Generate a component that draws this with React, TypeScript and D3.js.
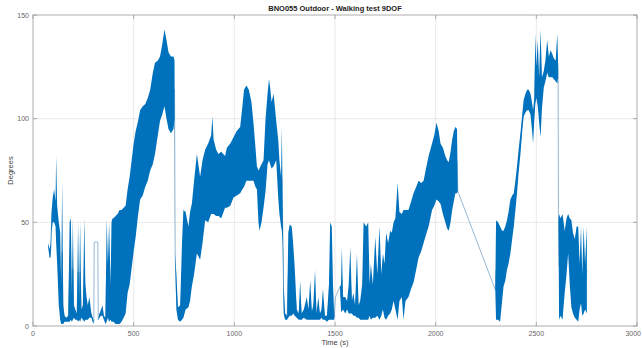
import * as d3 from "d3";
import { useEffect, useRef } from "react";

// envelope of the heading signal: time (s), min and max (deg)
const time = [
  76, 82, 88, 92, 98, 105, 112, 115, 120, 128, 135, 140, 145, 150, 157, 165, 175, 182, 188, 193,
  198, 203, 210, 218, 224, 229, 234, 240, 248, 255, 260, 266, 272, 280, 290, 300, 302, 304, 322, 324,
  330, 338, 345, 352, 360, 366, 372, 378, 385, 390, 395, 400, 410, 420, 430, 440, 450, 460, 470, 480,
  490, 500, 510, 520, 532, 545, 557, 570, 582, 595, 606, 620, 631, 642, 653, 663, 673, 685, 698, 703,
  706, 712, 720, 731, 740, 747, 758, 772, 780, 789, 800, 814, 830, 842, 855, 870, 885, 891, 897, 910,
  921, 935, 954, 963, 980, 996, 1012, 1029, 1040, 1048, 1060, 1072, 1085, 1095, 1105, 1112, 1120, 1125, 1135, 1145,
  1155, 1165, 1172, 1178, 1185, 1195, 1208, 1218, 1224, 1232, 1236, 1240, 1245, 1252, 1262, 1268, 1275, 1285, 1292, 1300,
  1310, 1320, 1327, 1334, 1345, 1360, 1368, 1377, 1385, 1392, 1401, 1408, 1417, 1425, 1433, 1440, 1450, 1460, 1470, 1476,
  1484, 1490, 1496, 1502, 1525, 1530, 1534, 1540, 1551, 1560, 1568, 1576, 1584, 1591, 1600, 1609, 1617, 1625, 1635, 1642,
  1655, 1665, 1672, 1678, 1688, 1700, 1710, 1721, 1730, 1738, 1746, 1754, 1764, 1774, 1782, 1791, 1800, 1811, 1820, 1832,
  1840, 1850, 1865, 1878, 1890, 1903, 1915, 1928, 1940, 1952, 1965, 1982, 1993, 2004, 2015, 2024, 2036, 2048, 2057, 2065,
  2074, 2082, 2090, 2098, 2106, 2110, 2296, 2300, 2310, 2320, 2330, 2337, 2346, 2354, 2362, 2371, 2380, 2388, 2396, 2404,
  2412, 2421, 2430, 2437, 2446, 2454, 2462, 2471, 2478, 2484, 2490, 2495, 2500, 2507, 2514, 2521, 2528, 2537, 2545, 2554,
  2562, 2571, 2580, 2587, 2596, 2604, 2608, 2610, 2613, 2620, 2630, 2641, 2650, 2658, 2666, 2674, 2682, 2691, 2700, 2708,
  2715, 2722, 2728, 2735, 2742, 2751,
];
const low = [
  38, 33, 33, 45, 50, 50, 48, 40, 30, 10, 3, 1, 1, 1, 2, 2, 2, 2, 3, 2,
  3, 4, 3, 3, 2, 3, 2, 4, 3, 2, 3, 3, 3, 4, 4, 1, 2, 40.5, 40.5, 3,
  4, 5, 5, 3, 1, 2, 4, 2, 3, 2, 2, 2, 1, 1, 1, 2, 4, 6, 16, 20,
  28, 36, 43, 52, 61, 63, 67, 70, 75, 78, 83, 92, 99, 102, 106, 100, 95, 93, 95, 100,
  32, 8, 3, 2, 3, 4, 8, 9, 12, 19, 25, 35, 32, 40, 51, 50, 54, 54, 54, 53,
  53, 52, 57, 57, 58, 62, 63, 64, 66, 67, 70, 70, 70, 70, 67, 66, 50, 46, 50, 57,
  65, 78, 80, 78, 76, 77, 80, 62, 54, 48, 46, 40, 6, 3, 3, 4, 5, 5, 6, 5,
  4, 3, 3, 3, 4, 3, 3, 3, 3, 3, 3, 3, 3, 3, 4, 3, 3, 2, 3, 3,
  3, 3, 3, 14, 19, 7, 7, 8, 6, 8, 6, 6, 6, 5, 5, 4, 4, 3, 3, 3,
  3, 3, 5, 3, 4, 4, 5, 3, 5, 8, 4, 3, 5, 6, 8, 12, 8, 3, 12, 14,
  3, 12, 14, 18, 21, 27, 33, 36, 40, 44, 48, 56, 58, 61, 60, 59, 54, 50, 47, 46,
  50, 56, 60, 64, 64, 65, 17.5, 3, 3, 2, 12, 19, 22, 27, 30, 35, 42, 48, 56, 64,
  74, 83, 94, 101, 103, 104, 104, 102, 95, 88, 100, 107, 110, 106, 98, 91, 105, 115, 118, 122,
  120, 120, 120, 119, 118, 117, 120, 51, 3, 5, 3, 16, 25, 35, 20, 9, 6, 4, 3, 2,
  8, 11, 5, 6, 8, 6,
];
const high = [
  40, 37, 40, 55, 62, 66, 60, 82, 58, 50, 45, 20, 70, 10, 5, 4, 5, 50, 52, 15,
  52, 10, 8, 6, 50, 12, 50, 8, 10, 52, 20, 14, 10, 14, 6, 3, 2, 40.5, 40.5, 3,
  6, 8, 10, 5, 4, 52, 30, 50, 20, 50, 52, 52, 53, 54, 56, 56, 57, 58, 66, 72,
  80, 88, 94, 98, 104, 106, 107, 110, 114, 122, 127, 128, 130, 136, 143, 138, 132, 130, 130, 128,
  35, 25, 9, 10, 40, 56, 55, 48, 55, 59, 70, 83, 72, 80, 85, 88, 92, 101, 90, 85,
  83, 84, 82, 86, 88, 91, 94, 96, 106, 114, 116, 114, 108, 98, 86, 77, 75, 76, 78, 80,
  100, 112, 119, 115, 108, 112, 99, 90, 80, 72, 96, 60, 20, 6, 5, 45, 49, 48, 40, 28,
  8, 6, 22, 6, 8, 14, 8, 22, 7, 10, 27, 6, 14, 6, 8, 18, 5, 5, 20, 50,
  48, 20, 5, 14, 19, 20, 38, 14, 14, 12, 20, 38, 12, 16, 10, 35, 10, 12, 20, 50,
  48, 50, 20, 30, 20, 43, 25, 48, 25, 35, 30, 45, 40, 46, 45, 50, 52, 69, 55, 54,
  56, 56, 56, 60, 64, 67, 70, 69, 70, 76, 82, 88, 92, 98, 94, 88, 86, 82, 80, 79,
  84, 90, 94, 96, 95, 65, 17.5, 51, 50, 48, 46, 46, 48, 51, 55, 61, 63, 64, 70, 77,
  85, 93, 102, 109, 112, 114, 114, 112, 108, 104, 110, 141, 125, 138, 120, 143, 120, 123, 128, 138,
  130, 133, 131, 129, 128, 141, 128, 51, 54, 52, 54, 46, 52, 54, 52, 51, 45, 42, 48, 48,
  30, 48, 25, 48, 30, 48,
];

const xTicks = [0, 500, 1000, 1500, 2000, 2500, 3000];
const yTicks = [0, 50, 100, 150];

const W = 642;
const H = 348;

export default function App() {
  const ref = useRef<SVGSVGElement | null>(null);

  useEffect(() => {
    const svg = d3.select(ref.current);
    svg.selectAll("*").remove();

    const margin = { top: 15, right: 5, bottom: 22, left: 33 };
    const x = d3.scaleLinear().domain([0, 3000]).range([margin.left, W - margin.right]);
    const y = d3.scaleLinear().domain([0, 150]).range([H - margin.bottom, margin.top]);
    const font = "'Liberation Sans', Arial, sans-serif";

    svg.append("rect").attr("width", W).attr("height", H).attr("fill", "#fff");

    // grid
    const grid = svg.append("g").attr("stroke", "#e3e3e3").attr("stroke-width", 0.8);
    xTicks.slice(1, -1).forEach((t) => {
      grid.append("line").attr("x1", x(t)).attr("x2", x(t)).attr("y1", y(0)).attr("y2", y(150));
    });
    yTicks.slice(1, -1).forEach((t) => {
      grid.append("line").attr("x1", x(0)).attr("x2", x(3000)).attr("y1", y(t)).attr("y2", y(t));
    });

    // signal: thin trace through the middle, dense band on top
    const idx = d3.range(time.length);
    const mid = d3
      .line<number>()
      .x((i) => x(time[i]))
      .y((i) => y((low[i] + high[i]) / 2));
    svg
      .append("path")
      .datum(idx)
      .attr("fill", "none")
      .attr("stroke", "#7ea6c8")
      .attr("stroke-width", 0.8)
      .attr("d", mid);

    const area = d3
      .area<number>()
      .x((i) => x(time[i]))
      .y0((i) => y(low[i]))
      .y1((i) => y(high[i]));
    svg
      .append("path")
      .datum(idx)
      .attr("fill", "#0072BD")
      .attr("d", area);

    // box + ticks
    const axisColor = "#9a9a9a";
    svg
      .append("rect")
      .attr("x", x(0))
      .attr("y", y(150))
      .attr("width", x(3000) - x(0))
      .attr("height", y(0) - y(150))
      .attr("fill", "none")
      .attr("stroke", axisColor)
      .attr("stroke-width", 0.8);

    const tl = 4;
    xTicks.forEach((t, i) => {
      svg.append("line").attr("x1", x(t)).attr("x2", x(t)).attr("y1", y(0)).attr("y2", y(0) - tl).attr("stroke", axisColor).attr("stroke-width", 0.8);
      svg.append("line").attr("x1", x(t)).attr("x2", x(t)).attr("y1", y(150)).attr("y2", y(150) + tl).attr("stroke", axisColor).attr("stroke-width", 0.8);
      const last = i === xTicks.length - 1;
      svg
        .append("text")
        .attr("x", last ? W - 1 : x(t))
        .attr("y", y(0) + 10)
        .attr("text-anchor", last ? "end" : "middle")
        .attr("font-family", font)
        .attr("font-size", 7)
        .attr("fill", "#666")
        .text(t);
    });
    yTicks.forEach((t) => {
      svg.append("line").attr("x1", x(0)).attr("x2", x(0) + tl).attr("y1", y(t)).attr("y2", y(t)).attr("stroke", axisColor).attr("stroke-width", 0.8);
      svg.append("line").attr("x1", x(3000)).attr("x2", x(3000) - tl).attr("y1", y(t)).attr("y2", y(t)).attr("stroke", axisColor).attr("stroke-width", 0.8);
      svg
        .append("text")
        .attr("x", x(0) - 4)
        .attr("y", y(t) + 2.5)
        .attr("text-anchor", "end")
        .attr("font-family", font)
        .attr("font-size", 7)
        .attr("fill", "#666")
        .text(t);
    });

    // labels
    svg
      .append("text")
      .attr("x", (x(0) + x(3000)) / 2)
      .attr("y", 11)
      .attr("text-anchor", "middle")
      .attr("font-family", font)
      .attr("font-weight", "bold")
      .attr("font-size", 7.5)
      .attr("fill", "#222")
      .text("BNO055 Outdoor - Walking test 9DOF");

    svg
      .append("text")
      .attr("x", (x(0) + x(3000)) / 2)
      .attr("y", 345)
      .attr("text-anchor", "middle")
      .attr("font-family", font)
      .attr("font-size", 7.5)
      .attr("fill", "#444")
      .text("Time (s)");

    svg
      .append("text")
      .attr("transform", `translate(13,${(y(0) + y(150)) / 2}) rotate(-90)`)
      .attr("text-anchor", "middle")
      .attr("font-family", font)
      .attr("font-size", 7.5)
      .attr("fill", "#444")
      .text("Degrees");
  }, []);

  return (
    <svg
      ref={ref}
      width={W}
      height={H}
      style={{ position: "absolute", left: 0, top: 0, display: "block" }}
    ></svg>
  );
}
